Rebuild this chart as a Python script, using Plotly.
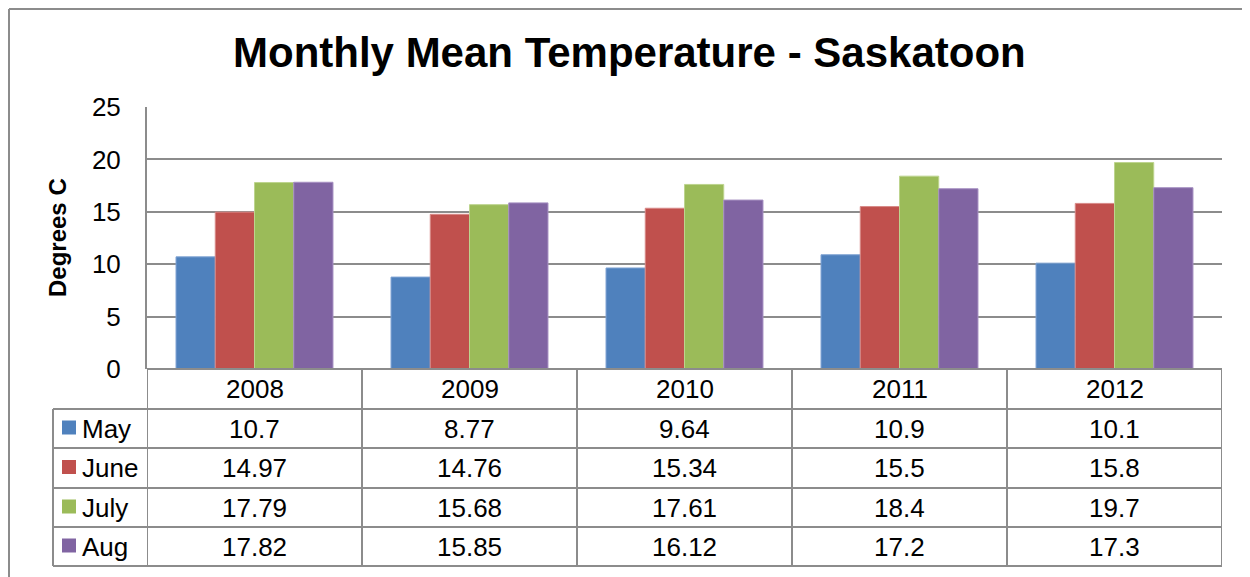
import plotly.graph_objects as go

# data
years = ["2008", "2009", "2010", "2011", "2012"]
months = ["May", "June", "July", "Aug"]
may = [10.7, 8.77, 9.64, 10.9, 10.1]
june = [14.97, 14.76, 15.34, 15.5, 15.8]
july = [17.79, 15.68, 17.61, 18.4, 19.7]
aug = [17.82, 15.85, 16.12, 17.2, 17.3]
series = [may, june, july, aug]
colors = ["#4F81BD", "#C0504D", "#9BBB59", "#8064A2"]
edges = ["#7FA3D3", "#D88A88", "#BDD48E", "#A690C2"]

W, H = 1250, 577
FONT = "Liberation Sans, Arial, sans-serif"
GRID = "#8C8C8C"
OFF = 8  # page body margin


def px(x):
    return (x - OFF) / W


def py(y):
    return 1 - (y - OFF) / H


# plot area in screen pixels
left, right, top, bottom = 147, 1222, 107, 369
row_edges = [369, 409, 448, 488, 527, 566]
key_left = 53

x_idx = list(range(len(years)))

fig = go.Figure()
for name, vals, c, e in zip(months, series, colors, edges):
    fig.add_trace(go.Bar(
        x=x_idx, y=vals, name=name,
        marker=dict(color=c, line=dict(color=e, width=1)),
        showlegend=False, hoverinfo="y+name"
    ))

shapes = []
annotations = []

# outer chart border (left + top only visible)
shapes.append(dict(type="line", xref="paper", yref="paper",
                   x0=px(9), x1=px(9), y0=py(9), y1=-0.05,
                   line=dict(color=GRID, width=2)))
shapes.append(dict(type="line", xref="paper", yref="paper",
                   x0=px(9), x1=1.05, y0=py(9), y1=py(9),
                   line=dict(color=GRID, width=2)))

# data table: horizontal lines
for i, yy in enumerate(row_edges):
    x0 = px(left) if i == 0 else px(key_left)
    shapes.append(dict(type="line", xref="paper", yref="paper",
                       x0=x0, x1=px(right), y0=py(yy), y1=py(yy),
                       line=dict(color=GRID, width=2)))
# vertical lines: key column edge
shapes.append(dict(type="line", xref="paper", yref="paper",
                   x0=px(key_left), x1=px(key_left), y0=py(row_edges[1]), y1=py(row_edges[-1]),
                   line=dict(color=GRID, width=2)))
# category boundaries
for k in range(len(years) + 1):
    shapes.append(dict(type="line", xref="x", yref="paper",
                       x0=k - 0.5, x1=k - 0.5, y0=py(row_edges[0]), y1=py(row_edges[-1]),
                       line=dict(color=GRID, width=2)))

txt = dict(showarrow=False, yanchor="middle", font=dict(size=26, color="black", family=FONT))

# header row: years
hdr_y = py((row_edges[0] + row_edges[1]) / 2)
for k, yr in enumerate(years):
    annotations.append(dict(x=k, y=hdr_y, xref="x", yref="paper", text=yr,
                            xanchor="center", **txt))

# rows: legend keys + values
for r, (name, vals, c) in enumerate(zip(months, series, colors)):
    y_top, y_bot = row_edges[r + 1], row_edges[r + 2]
    yc = (y_top + y_bot) / 2
    shapes.append(dict(type="rect", xref="paper", yref="paper",
                       x0=px(62), x1=px(76), y0=py(yc - 8), y1=py(yc + 6),
                       fillcolor=c, line=dict(width=0)))
    annotations.append(dict(x=px(80), y=py(yc), xref="paper", yref="paper", text=name,
                            xanchor="left", **txt))
    for k, v in enumerate(vals):
        annotations.append(dict(x=k, y=py(yc), xref="x", yref="paper", text=f"{v:g}",
                                xanchor="center", **txt))

# title and y axis title
annotations.append(dict(x=px(629), y=py(52), xref="paper", yref="paper",
                        text="<b>Monthly Mean Temperature - Saskatoon</b>",
                        showarrow=False, xanchor="center", yanchor="middle",
                        font=dict(size=42, color="black", family=FONT)))
annotations.append(dict(x=px(58), y=py((top + bottom) / 2), xref="paper", yref="paper",
                        text="<b>Degrees C</b>", textangle=-90,
                        showarrow=False, xanchor="center", yanchor="middle",
                        font=dict(size=24, color="black", family=FONT)))

fig.update_layout(
    template="none",
    width=W, height=H, autosize=False,
    margin=dict(l=0, r=0, t=0, b=0, pad=0),
    paper_bgcolor="white", plot_bgcolor="white",
    barmode="group", bargap=0.27, bargroupgap=0,
    font=dict(family=FONT, color="black"),
    xaxis=dict(domain=[px(left), px(right)], range=[-0.5, len(years) - 0.5],
               showticklabels=False, showgrid=False, zeroline=False, showline=False,
               automargin=False, fixedrange=True),
    yaxis=dict(domain=[py(bottom), py(top)], range=[0, 25], dtick=5,
               showgrid=True, gridcolor=GRID, gridwidth=1.5,
               zeroline=False, showline=True, linecolor=GRID, linewidth=2,
               ticks="", ticklabelstandoff=19, automargin=False,
               tickfont=dict(size=26, color="black", family=FONT)),
    shapes=shapes,
    annotations=annotations,
)

fig.write_html("out.html")
